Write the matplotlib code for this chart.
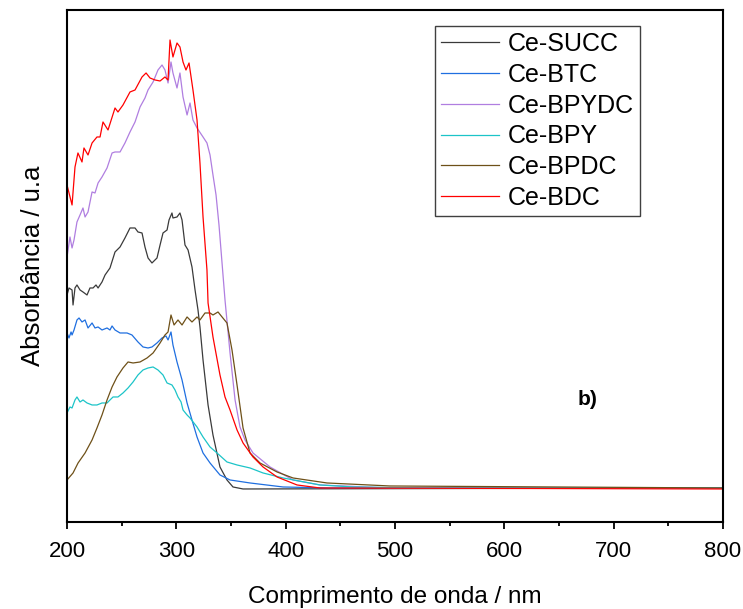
import numpy as np
import matplotlib.pyplot as plt
from matplotlib.ticker import MultipleLocator

plt.rcParams['font.family'] = ['Liberation Sans', 'DejaVu Sans']

# espectros UV-Vis (absorbancia em unidades arbitrarias)
succ_nm = [200, 201.8, 204.6, 205.5, 207.3, 209.1, 211.9, 214.6, 218.3, 221, 223.8, 226.5, 228.4, 232,
           234.8, 239.3, 243.9, 248.5, 253, 257.6, 262.2, 264.9, 268.6, 271.3, 274.1, 277.7, 282.3,
           285.1, 287.8, 291.5, 293.3, 296, 296.9, 300.6, 303.3, 305.2, 307.9, 310.7, 314.3, 317.1,
           319.8, 321.6, 324.4, 329, 333.5, 339.9, 346.3, 351.8, 361, 800]
succ_abs = [1.93, 2.00, 1.98, 1.83, 2.00, 2.03, 1.98, 1.96, 1.93, 2.00, 2.00, 2.03, 2.00, 2.06,
            2.13, 2.20, 2.36, 2.41, 2.50, 2.60, 2.60, 2.56, 2.55, 2.41, 2.30, 2.25, 2.30,
            2.43, 2.55, 2.58, 2.68, 2.75, 2.70, 2.71, 2.75, 2.68, 2.43, 2.38, 2.21, 1.98,
            1.78, 1.61, 1.28, 0.83, 0.53, 0.21, 0.08, 0.01, -0.01, 0.0]

btc_nm = [200, 201.8, 203.7, 204.6, 206.4, 209.1, 211, 213.7, 216.5, 219.2, 222.9, 225.6, 228.4, 232,
          236.6, 239.3, 241.2, 243.9, 248.5, 254.9, 259.4, 264.9, 269.5, 274.1, 277.7, 282.3, 286.9,
          290.5, 292.4, 295.1, 296.9, 300.6, 305.2, 309.8, 314.3, 318.9, 324.4, 330.8, 339.9, 349.1,
          367.4, 397.6, 440, 800]
btc_abs = [1.55, 1.50, 1.56, 1.53, 1.58, 1.68, 1.70, 1.66, 1.68, 1.60, 1.65, 1.60, 1.61, 1.58,
           1.60, 1.58, 1.62, 1.58, 1.55, 1.55, 1.53, 1.46, 1.41, 1.40, 1.41, 1.45, 1.50,
           1.52, 1.48, 1.56, 1.43, 1.26, 1.08, 0.85, 0.68, 0.51, 0.35, 0.25, 0.13, 0.08,
           0.05, 0.01, 0.0, 0.0]

bpydc_nm = [200, 202.7, 204.6, 206.4, 209.1, 211.9, 214.6, 216.5, 219.2, 222.9, 225.6, 228.4, 232,
            236.6, 241.2, 243.9, 248.5, 253, 257.6, 262.2, 266.8, 271.3, 274.1, 278.7, 283.2, 286.9,
            289.6, 292.4, 295.1, 296.9, 300.6, 303.3, 306.1, 309.8, 312.5, 315.2, 318.9, 324.4, 328,
            330.8, 333.5, 336.3, 339, 344.5, 349.1, 353.7, 358.2, 362.8, 370.1, 385.7, 406.7, 431.4,
            495, 800]
bpydc_abs = [2.31, 2.51, 2.40, 2.48, 2.66, 2.73, 2.80, 2.71, 2.76, 2.96, 2.95, 3.05, 3.11,
             3.20, 3.35, 3.36, 3.36, 3.45, 3.56, 3.66, 3.81, 3.90, 3.98, 4.06, 4.18, 4.23,
             4.18, 4.05, 4.26, 4.15, 4.00, 4.15, 3.91, 3.73, 3.85, 3.68, 3.60, 3.51, 3.45,
             3.33, 3.13, 2.93, 2.63, 1.88, 1.35, 0.88, 0.61, 0.48, 0.35, 0.21, 0.08, 0.03,
             0.0, 0.0]

bpy_nm = [200, 202.7, 204.6, 207.3, 209.1, 211.9, 214.6, 218.3, 222.9, 227.4, 232, 236.6, 239.3,
          242.1, 246.6, 251.2, 255.8, 260.4, 264.9, 269.5, 274.1, 278.7, 283.2, 287.8, 291.5, 296,
          298.8, 301.5, 304.3, 306.1, 309.8, 312.5, 318.9, 324.4, 330.8, 337.2, 346.3, 355.5, 367.4,
          379.3, 397.6, 431.4, 461.6, 522.9, 800]
bpy_abs = [0.75, 0.81, 0.80, 0.88, 0.91, 0.86, 0.88, 0.85, 0.83, 0.83, 0.85, 0.85, 0.88,
           0.91, 0.91, 0.95, 1.00, 1.06, 1.13, 1.18, 1.20, 1.21, 1.18, 1.13, 1.05, 1.03,
           0.98, 0.91, 0.86, 0.78, 0.73, 0.70, 0.61, 0.51, 0.41, 0.35, 0.26, 0.23, 0.20,
           0.15, 0.10, 0.03, 0.01, 0.0, 0.0]

bpdc_nm = [200, 205.5, 210.1, 216.5, 222.9, 227.4, 232, 236.6, 241.2, 245.7, 251.2, 255.8, 260.4,
           266.8, 273.2, 278.7, 285.1, 289.6, 292.4, 295.1, 297.9, 301.5, 305.2, 309.8, 314.3, 318.9,
           321.6, 326.2, 330.8, 333.5, 338.1, 341.8, 346.3, 350.9, 355.5, 361, 367.4, 376.5, 392.1,
           406.7, 437.8, 495.4, 800]
bpdc_abs = [0.08, 0.15, 0.25, 0.35, 0.48, 0.60, 0.73, 0.88, 1.01, 1.11, 1.20, 1.26, 1.25,
            1.26, 1.30, 1.35, 1.45, 1.53, 1.56, 1.73, 1.63, 1.68, 1.63, 1.71, 1.66, 1.71,
            1.68, 1.75, 1.75, 1.73, 1.76, 1.71, 1.65, 1.38, 1.03, 0.60, 0.35, 0.25, 0.16,
            0.10, 0.05, 0.02, 0.0]

bdc_nm = [200, 204.6, 207.3, 210, 213.7, 215.5, 219.2, 222.9, 227.4, 230.2, 232.9, 237.5, 243.9,
          246.6, 251.2, 257.6, 262.2, 268.6, 272.3, 275.9, 280.5, 285.1, 289.6, 292.4, 294.2, 296.9,
          300.6, 303.3, 306.1, 308.8, 311.6, 315.2, 318.9, 321.6, 324.4, 328, 329, 333.5, 339.9,
          344.5, 349.1, 355.5, 361, 370.1, 379.3, 392.1, 410.4, 431.4, 800]
bdc_abs = [3.03, 2.83, 3.21, 3.35, 3.26, 3.40, 3.33, 3.45, 3.51, 3.51, 3.66, 3.58, 3.80,
           3.76, 3.83, 3.96, 3.98, 4.11, 4.15, 4.10, 4.08, 4.07, 4.11, 4.08, 4.48, 4.31,
           4.45, 4.41, 4.26, 4.18, 4.25, 3.98, 3.68, 3.25, 2.71, 2.18, 1.85, 1.51, 1.13,
           0.91, 0.78, 0.58, 0.45, 0.31, 0.21, 0.11, 0.03, 0.0, -0.01]

labels = ['Ce-SUCC', 'Ce-BTC', 'Ce-BPYDC', 'Ce-BPY', 'Ce-BPDC', 'Ce-BDC']
cores = ['#3a3a3a', '#1f6fe0', '#b07ee0', '#1cc4c8', '#6e5018', '#ff0000']
series = [(succ_nm, succ_abs), (btc_nm, btc_abs), (bpydc_nm, bpydc_abs),
          (bpy_nm, bpy_abs), (bpdc_nm, bpdc_abs), (bdc_nm, bdc_abs)]

fig = plt.figure(figsize=(7.43, 6.09), dpi=100)
ax = fig.add_axes([0.0902, 0.1429, 0.8829, 0.8407])

for (x, y), lab, c in zip(series, labels, cores):
    ax.plot(x, y, color=c, lw=0.9, label=lab)

ax.set_xlim(200, 800)
ax.set_ylim(-0.34, 4.78)
ax.xaxis.set_major_locator(MultipleLocator(100))
ax.xaxis.set_minor_locator(MultipleLocator(50))
ax.set_yticks([])
ax.tick_params(axis='x', which='major', direction='out', length=5, width=1.3, labelsize=16, pad=9)
ax.tick_params(axis='x', which='minor', direction='out', length=3, width=1.3)
for s in ax.spines.values():
    s.set_linewidth(1.5)

ax.set_xlabel('Comprimento de onda / nm', fontsize=17.5, labelpad=17)
ax.set_ylabel('Absorbância / u.a', fontsize=18.5, labelpad=16)

ax.text(676, 0.88, 'b)', fontsize=15, fontweight='bold', ha='center', va='center')

leg = ax.legend(loc='upper right', bbox_to_anchor=(0.873, 0.969), fontsize=18,
                handlelength=2.3, labelspacing=0.27, handletextpad=0.35,
                fancybox=False, framealpha=1, borderpad=0.25, borderaxespad=0)
leg.get_frame().set_edgecolor('#404040')
leg.get_frame().set_linewidth(1.0)

fig.savefig('out.png', dpi=100)
